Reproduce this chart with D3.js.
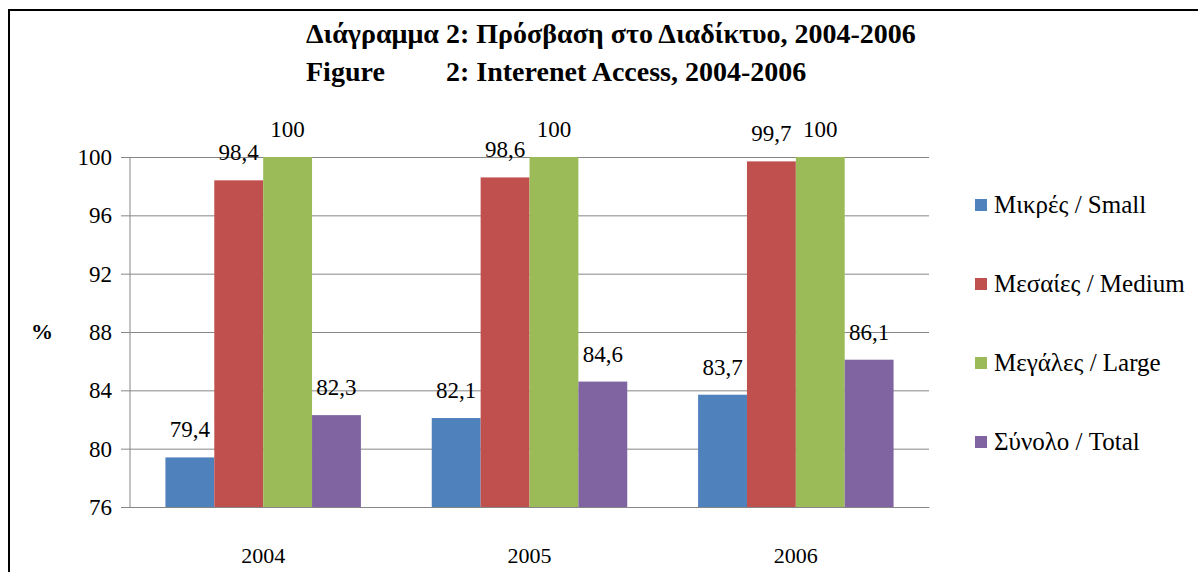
<!DOCTYPE html>
<html>
<head>
<meta charset="utf-8">
<script src="https://cdn.jsdelivr.net/npm/d3@7"></script>
</head>
<body style="margin:0">
<div id="chart"></div>
<script>
// data
const years = ["2004", "2005", "2006"];
const seriesNames = ["Μικρές / Small", "Μεσαίες / Medium", "Μεγάλες / Large", "Σύνολο / Total"];
const small = [79.4, 82.1, 83.7];
const medium = [98.4, 98.6, 99.7];
const large = [100, 100, 100];
const total = [82.3, 84.6, 86.1];
const yTicks = [76, 80, 84, 88, 92, 96, 100];
const colors = ["#4F81BD", "#C0504D", "#9BBB59", "#8064A2"];

const allSeries = [small, medium, large, total];
const serif = "Liberation Serif";

//svg size
const width = 1198;
const height = 572;
const plot = { left: 130, right: 929, top: 157, bottom: 507 };

const svg = d3.select("#chart")
  .append("svg")
  .attr("width", width)
  .attr("height", height);

// outer frame (only top and left visible)
svg.append("rect")
  .attr("x", 9).attr("y", 10)
  .attr("width", 1400).attr("height", 1000)
  .attr("fill", "none")
  .attr("stroke", "#000")
  .attr("stroke-width", 2);

// scales
const x0 = d3.scaleBand()
  .domain(years)
  .range([plot.left, plot.right]);

const x1 = d3.scaleBand()
  .domain(d3.range(seriesNames.length))
  .range([x0.bandwidth() * 0.133, x0.bandwidth() * 0.867]);

const yScale = d3.scaleLinear()
  .domain([76, 100])
  .range([plot.bottom, plot.top]);

// gridlines + y axis
const yAxis = d3.axisLeft(yScale)
  .tickValues(yTicks)
  .tickSize(-(plot.right - plot.left))
  .tickPadding(18)
  .tickFormat(d => d);

const gy = svg.append("g")
  .attr("transform", "translate(" + plot.left + ",0)")
  .call(yAxis);
gy.select(".domain").remove();
gy.selectAll(".tick line").attr("stroke", "#868686").attr("x1", -9);
gy.selectAll(".tick text")
  .style("font-family", serif)
  .style("font-size", "23px")
  .style("fill", "#000");

// left axis line
svg.append("line")
  .attr("x1", plot.left).attr("x2", plot.left)
  .attr("y1", plot.top).attr("y2", plot.bottom)
  .attr("stroke", "#868686");

// bars
const groups = svg.selectAll("g.year")
  .data(years)
  .enter().append("g")
  .attr("class", "year")
  .attr("transform", d => "translate(" + x0(d) + ",0)");

groups.selectAll("rect")
  .data((d, i) => allSeries.map((s, j) => ({ k: j, v: s[i] })))
  .enter().append("rect")
  .attr("x", d => x1(d.k))
  .attr("y", d => yScale(d.v))
  .attr("width", x1.bandwidth())
  .attr("height", d => yScale(76) - yScale(d.v))
  .attr("fill", d => colors[d.k]);

groups.selectAll("text.lbl")
  .data((d, i) => allSeries.map((s, j) => ({ k: j, v: s[i] })))
  .enter().append("text")
  .attr("class", "lbl")
  .attr("x", d => x1(d.k) + x1.bandwidth() / 2)
  .attr("y", d => yScale(d.v) - 20)
  .attr("text-anchor", "middle")
  .style("font-family", serif)
  .style("font-size", "23px")
  .text(d => String(d.v).replace(".", ","));

// bottom axis
const xAxis = d3.axisBottom(x0).tickSize(0).tickPadding(40);
const gx = svg.append("g")
  .attr("transform", "translate(0," + plot.bottom + ")")
  .call(xAxis);
gx.select(".domain").attr("stroke", "#868686");
gx.selectAll(".tick text")
  .style("font-family", serif)
  .style("font-size", "22px")
  .style("fill", "#000");

// y label
svg.append("text")
  .attr("x", 42).attr("y", 339)
  .attr("text-anchor", "middle")
  .style("font-family", serif)
  .style("font-size", "22px")
  .style("font-weight", "bold")
  .text("%");

// title
const titleLines = [
  { x: 306, y: 43, t: "Διάγραμμα 2: Πρόσβαση στο Διαδίκτυο, 2004-2006" },
  { x: 306, y: 81, t: "Figure" },
  { x: 446, y: 81, t: "2: Interenet Access, 2004-2006" }
];
svg.selectAll("text.title")
  .data(titleLines)
  .enter().append("text")
  .attr("class", "title")
  .attr("x", d => d.x).attr("y", d => d.y)
  .style("font-family", serif)
  .style("font-size", "28px")
  .style("font-weight", "bold")
  .text(d => d.t);

// legend
const legend = svg.selectAll("g.legend")
  .data(seriesNames)
  .enter().append("g")
  .attr("class", "legend")
  .attr("transform", (d, i) => "translate(975," + (205 + i * 79) + ")");
legend.append("rect")
  .attr("x", 0).attr("y", -6)
  .attr("width", 12).attr("height", 12)
  .attr("fill", (d, i) => colors[i]);
legend.append("text")
  .attr("x", 19).attr("y", 8)
  .style("font-family", serif)
  .style("font-size", "25px")
  .text(d => d);
</script>
</body>
</html>
